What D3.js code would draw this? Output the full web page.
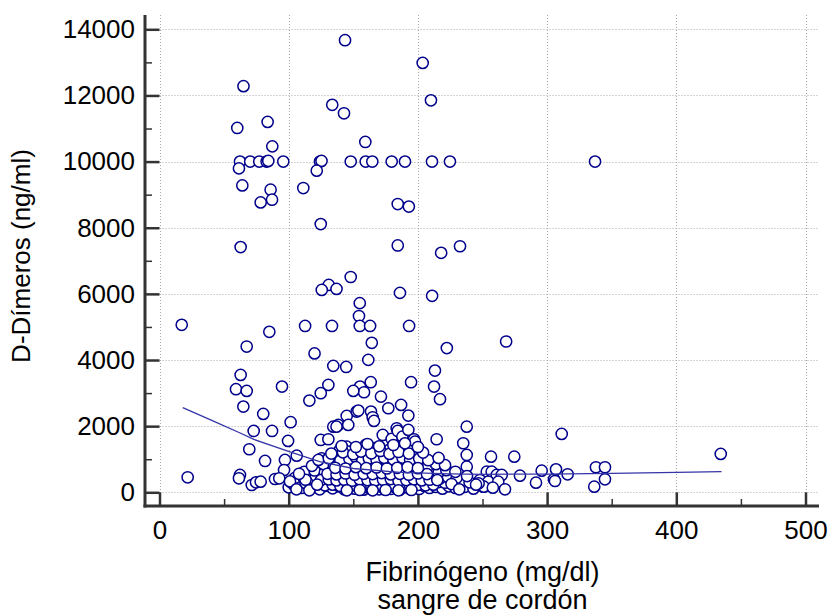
<!DOCTYPE html>
<html><head><meta charset="utf-8">
<script src="https://cdn.jsdelivr.net/npm/d3@7"></script>
<style>
body{margin:0;background:#fff}
text{font-family:"Liberation Sans",Arial,sans-serif;fill:#000}
</style>
</head><body>
<svg id="c" width="832" height="616"></svg>
<script>
// ---- data ----
const fibrinogeno = [
17.2,21.8,60.2,65.0,83.7,87.3,
62.3,70.2,77.2,82.9,84.2,95.8,124.2,125.4,148.0,159.6,164.7,179.7,190.0,210.9,224.8,337.1,
61.5,64.1,86.0,87.1,78.3,111.3,121.7,124.8,62.8,133.7,142.8,159.3,143.6,203.7,210.1,184.4,184.4,193.0,218.0,232.6,
148.0,131.0,125.6,137.0,186.1,211.0,85.0,67.5,112.7,133.5,155.0,154.4,155.0,163.0,193.2,164.3,144.5,120.0,222.4,268.3,161.6,213.2,
212.5,194.7,163.5,155.2,158.3,150.0,171.4,177.1,187.0,192.6,217.1,134.5,130.7,124.8,116.0,
62.8,59.2,67.5,64.9,80.3,94.8,101.5,72.9,87.1,99.5,69.5,81.7,97.1,106.2,96.4,62.3,61.5,71.4,74.7,78.3,89.4,92.7,
144.9,152.6,153.9,163.7,165.0,166.0,134.5,138.4,146.1,137.0,124.8,130.7,
172.8,179.7,183.6,184.4,188.0,192.6,197.0,197.8,159.6,166.8,178.4,186.1,
214.5,237.8,235.1,237.8,237.8,256.6,139.7,144.9,146.1,125.5,129.4,134.5,139.2,119.0,
274.6,311.3,434.4,253.3,257.1,261.0,264.9,248.0,254.5,262.2,250.6,267.4,279.0,291.4,295.8,305.3,306.1,306.9,315.9,337.8,344.8,336.5,344.8,
100,104,110,118,124,129,134,139,143,147,151,155,158,161,164,167,170,173,176,179,182,186,189,193,197,201,205,209,214,219,224,229,236,243,251,258,
102,107,113,119,126,131,136,141,146,150,154,157,160,163,166,169,172,175,178,181,184,188,191,194,198,202,206,211,216,221,227,233,240,247,
105,111,116,121,127,132,137,142,146,150,153,156,159,162,165,168,171,174,177,180,183,186,189,192,196,199,203,207,212,217,223,230,238,
112,120,128,134,139,144,148,152,156,160,163,167,171,175,179,183,187,191,195,200,205,210,216,222,229,
118,127,135,142,148,153,158,162,166,171,176,181,186,191,196,202,208,214,221,
123,131,140,147,152,157,162,168,174,181,188,194,201,208,216,
133,142,150,156,164,171,178,185,193,204,
141,152,161,170,181,190,200,
128,134,140,146,152,158,164,170,176,182,188,194,200,206,212,
125,131,137,143,149,155,161,167,173,179,185,191,197,203,209,215,
130,137,144,151,158,165,172,179,186,193,200,207,
136,144,152,160,168,176,184,192,200,
145,155,165,175,185,195,
101,106,113,116,122,108,226,232,245
];
const dimeros = [
5063,454,11017,12280,11200,10460,
10000,10000,10000,10000,10020,10000,10000,10020,10000,10000,10000,10000,10000,10000,10000,10000,
9795,9280,9150,8847,8766,9200,9725,8111,7415,11716,11460,10593,13670,12984,11852,8716,7464,8640,7240,7440,
6510,6270,6120,6150,6030,5940,4852,4407,5030,5030,5720,5330,5030,5030,5030,4520,3790,4200,4360,4560,4004,3681,
3197,3329,3329,3197,3026,3066,2893,2542,2642,2319,2815,3823,3247,2996,2774,
3550,3117,3066,2592,2370,3197,2119,1855,1855,1553,1301,948,978,1108,675,524,424,221,302,321,402,424,
2309,2440,2470,2440,2270,2158,1985,2037,2037,1985,1583,1604,
1734,1613,1937,1855,1683,1886,1604,1532,1432,1332,1301,1380,
1604,1985,1483,1129,775,1077,1280,1380,1229,1029,978,1077,1259,675,
1077,1765,1160,624,624,524,524,372,321,321,170,91,503,291,654,393,342,694,545,757,757,170,393,
150,220,130,170,90,200,120,180,90,160,110,200,80,150,110,190,90,140,200,100,160,80,190,120,170,100,190,130,160,110,180,130,160,110,170,140,
300,340,280,320,260,330,270,310,250,330,280,350,260,320,280,340,250,300,330,270,320,290,340,260,310,280,330,260,310,290,330,280,300,270,
440,480,420,500,450,420,490,440,510,430,480,420,500,450,410,490,440,510,420,470,440,500,420,460,510,430,480,440,500,420,470,440,490,
620,660,600,680,630,700,610,660,700,620,680,640,700,610,670,630,690,620,660,610,680,640,600,670,620,
800,850,790,860,820,880,790,850,810,870,800,850,800,870,820,860,800,850,820,
980,1030,960,1010,1060,970,1030,980,1040,990,1050,980,1020,970,1040,
1170,1210,1150,1230,1180,1250,1160,1220,1170,1200,
1400,1370,1460,1390,1430,1480,1370,
210,230,190,220,200,240,190,230,210,200,240,190,220,210,230,
370,390,360,380,350,390,370,360,380,400,350,370,390,360,380,370,
560,540,570,530,560,550,580,540,560,530,570,550,
740,720,760,730,750,720,740,760,730,
60,70,60,70,60,70,
330,90,380,60,230,560,250,90,230
];
const smoothX = [18, 40, 62, 73, 101, 124, 150, 186, 225, 250, 300, 350, 400, 435];
const smoothY = [2560, 2180, 1800, 1600, 1220, 930, 720, 600, 555, 545, 550, 575, 600, 624];
const xTicks = [0, 100, 200, 300, 400, 500];
const xMinor = [50, 150, 250, 350, 450];
const yTicks = [0, 2000, 4000, 6000, 8000, 10000, 12000, 14000];
const yMinor = [1000, 3000, 5000, 7000, 9000, 11000, 13000];
const xTitle = ["Fibrinógeno (mg/dl)", "sangre de cordón"];
const yTitle = "D-Dímeros (ng/ml)";

// ---- drawing ----
const svg = d3.select("#c");
const x = d3.scaleLinear().domain([0, 500]).range([159.5, 805.5]);
const y = d3.scaleLinear().domain([0, 14000]).range([492.3, 29.3]);
const axX = 145, axY = 506, topY = 15, rightX = 819;

// grid
const grid = svg.append("g").attr("stroke", "#a8a8a8").attr("stroke-width", 1).attr("stroke-dasharray", "1 2");
grid.selectAll("line.h").data(yTicks).join("line").attr("class", "h")
  .attr("x1", x(0)).attr("x2", rightX).attr("y1", d => Math.round(y(d)) + 0.5).attr("y2", d => Math.round(y(d)) + 0.5);
grid.selectAll("line.v").data(xTicks).join("line").attr("class", "v")
  .attr("y1", topY).attr("y2", y(0)).attr("x1", d => Math.round(x(d)) + 0.5).attr("x2", d => Math.round(x(d)) + 0.5);

// axes
const yAxis = d3.axisLeft(y).tickValues(yTicks).tickSize(-(x(0) - axX)).tickSizeOuter(0).tickPadding(10).tickFormat(d3.format("d"));
const gy = svg.append("g").attr("transform", `translate(${axX},0)`).call(yAxis);
const yMin = d3.axisLeft(y).tickValues(yMinor).tickSize(-7).tickSizeOuter(0).tickFormat("");
const gym = svg.append("g").attr("transform", `translate(${axX},0)`).call(yMin);

const xAxis = d3.axisBottom(x).tickValues(xTicks).tickSize(-(axY - y(0))).tickSizeOuter(0).tickPadding(14.5).tickFormat(d3.format("d"));
const gx = svg.append("g").attr("transform", `translate(0,${axY})`).call(xAxis);
const xMin = d3.axisBottom(x).tickValues(xMinor).tickSize(-7).tickSizeOuter(0).tickFormat("");
const gxm = svg.append("g").attr("transform", `translate(0,${axY})`).call(xMin);

[gy, gx, gym, gxm].forEach(g => { g.select(".domain").remove(); g.selectAll("text").style("font-size", "26px").attr("fill", "#000"); });
gy.selectAll(".tick line").attr("stroke", "#333").attr("stroke-width", 2.5);
gx.selectAll(".tick line").attr("stroke", "#333").attr("stroke-width", 2.5);
gym.selectAll(".tick line").attr("stroke", "#333").attr("stroke-width", 1.5);
gxm.selectAll(".tick line").attr("stroke", "#333").attr("stroke-width", 1.5);

svg.append("line").attr("x1", axX).attr("x2", axX).attr("y1", topY).attr("y2", axY + 1.5).attr("stroke", "#333").attr("stroke-width", 3);
svg.append("line").attr("x1", axX - 1.5).attr("x2", rightX).attr("y1", axY).attr("y2", axY).attr("stroke", "#333").attr("stroke-width", 3);

// points
const pts = fibrinogeno.map((v, i) => ({ fx: v, dd: dimeros[i] }));
svg.append("g").selectAll("circle").data(pts).join("circle")
  .attr("cx", d => x(d.fx)).attr("cy", d => y(d.dd)).attr("r", 5.6)
  .attr("fill", "#fff").attr("stroke", "#00008b").attr("stroke-width", 1.5);

// smoothed line
const sm = smoothX.map((v, i) => [v, smoothY[i]]);
svg.append("path").datum(sm)
  .attr("d", d3.line().x(d => x(d[0])).y(d => y(d[1])))
  .attr("fill", "none").attr("stroke", "#3535a8").attr("stroke-width", 1.3);

// titles
svg.append("text").attr("x", 482.5).attr("y", 581).attr("text-anchor", "middle").style("font-size", "27px").text(xTitle[0]);
svg.append("text").attr("x", 482.5).attr("y", 609).attr("text-anchor", "middle").style("font-size", "27px").text(xTitle[1]);
svg.append("text").attr("transform", "translate(29.5,256) rotate(-90)").attr("text-anchor", "middle").style("font-size", "26px").text(yTitle);
</script>
</body></html>
